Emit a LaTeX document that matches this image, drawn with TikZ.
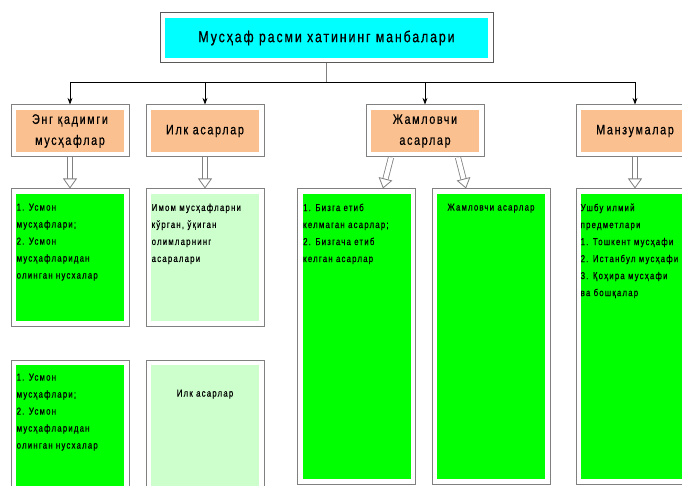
\documentclass[tikz,border=0pt]{standalone}
\usepackage{fontspec}
\setmainfont{Liberation Sans}[FakeStretch=0.78, LetterSpace=12, FakeBold=0.6]
\usetikzlibrary{positioning, calc, arrows.meta}

\definecolor{peach}{HTML}{FAC090}
\definecolor{titlecyan}{HTML}{00FFFF}
\definecolor{palegreen}{HTML}{CCFFCC}
\definecolor{brightgreen}{HTML}{00FF00}
\definecolor{framegray}{HTML}{808080}

\tikzset{
  framed/.style={draw=framegray, line width=1pt, fill=white, inner sep=0pt,
    path picture={\fill[#1] ([shift={(5pt,-5pt)}]path picture bounding box.north west)
      rectangle ([shift={(-5pt,5pt)}]path picture bounding box.south east);}},
  head/.style={framed=peach, minimum width=118pt, minimum height=52pt, align=center,
    font=\fontsize{13.8}{21}\selectfont},
  card/.style={framed=#1, minimum width=118pt},
  note/.style={inner sep=0pt, align=left, font=\fontsize{10}{17}\selectfont},
  hollow/.style={draw=framegray, line width=0.8pt, double=white, double distance=4.5pt,
    -{Triangle[open, fill=white, length=10pt, width=14pt]}},
}

\begin{document}
\begin{tikzpicture}[x=1pt, y=-1pt, >=Stealth]
  \useasboundingbox (0,0) rectangle (682,486);

  % sarlavha
  \node[framed=titlecyan, draw=black!65, minimum width=333pt, minimum height=50pt,
        font=\fontsize{15.8}{18}\selectfont] (title) at (326.5,38) {Мусҳаф расми хатининг манбалари};

  % birinchi qator
  \node[head] (eng) at (70,131)             {Энг қадимги\\мусҳафлар};
  \node[head] (ilk) [right=16pt of eng]     {Илк асарлар};
  \node[head] (jam) [right=101pt of ilk]    {Жамловчи\\асарлар};
  \node[head] (man) [right=91pt of jam]     {Манзумалар};

  % kartalar
  \node[card=brightgreen, minimum height=137pt] (usmon)  [below=31pt of eng] {};
  \node[card=palegreen,   minimum height=137pt] (imom)   [below=31pt of ilk] {};
  \node[card=brightgreen, minimum height=295pt] (bizga)  [below=31pt of jam, xshift=-68.5pt] {};
  \node[card=brightgreen, minimum height=295pt] (jamc)   [below=31pt of jam, xshift=66pt] {};
  \node[card=brightgreen, minimum height=295pt] (ushbu)  [below=31pt of man] {};
  \node[card=brightgreen, minimum height=137pt] (usmon2) [below=33pt of usmon] {};
  \node[card=palegreen,   minimum height=137pt] (ilk2)   [below=33pt of imom] {};

  % matnlar
  \node[note, anchor=north west] (t1) at ([shift={(6pt,-15pt)}]usmon.north west)
    {1. Усмон\\мусҳафлари;\\2. Усмон\\мусҳафларидан\\олинган нусхалар};
  \node[note, anchor=north west] (t2) at ([shift={(6pt,-15pt)}]imom.north west)
    {Имом мусҳафларни\\кўрган, ўқиган\\олимларнинг\\асаралари};
  \node[note, anchor=north west] (t3) at ([shift={(6pt,-15pt)}]bizga.north west)
    {1. Бизга етиб\\келмаган асарлар;\\2. Бизгача етиб\\келган асарлар};
  \node[note, anchor=north] (t4) at ([yshift=-15pt]jamc.north) {Жамловчи асарлар};
  \node[note, anchor=north west] (t5) at ([shift={(5pt,-15pt)}]ushbu.north west)
    {Ушбу илмий\\предметлари\\1. Тошкент мусҳафи\\2. Истанбул мусҳафи\\3. Қоҳира мусҳафи\\ва бошқалар};
  \node[note, anchor=north west] (t6) at ([shift={(6pt,-14pt)}]usmon2.north west)
    {1. Усмон\\мусҳафлари;\\2. Усмон\\мусҳафларидан\\олинган нусхалар};
  \node[note, anchor=north] (t7) at ([yshift=-30pt]ilk2.north) {Илк асарлар};

  % ulanishlar
  \coordinate (bus) at ($(title.south)+(0,19)$);
  \draw[framegray, line width=0.8pt] (title.south) -- (bus);
  \draw[line width=1.8pt] (bus -| eng.north) -- (bus -| man.north);
  \foreach \n in {eng, ilk, jam, man}
    \draw[->, line width=0.8pt] (bus -| \n.north) -- (\n.north);

  \draw[hollow] (eng.south) -- (usmon.north);
  \draw[hollow] (ilk.south) -- (imom.north);
  \draw[hollow] ([xshift=-34pt]jam.south) -- ([xshift=26.5pt]bizga.north);
  \draw[hollow] ([xshift=33pt]jam.south) -- ([xshift=-25pt]jamc.north);
  \draw[hollow] (man.south) -- (ushbu.north);
\end{tikzpicture}
\end{document}
